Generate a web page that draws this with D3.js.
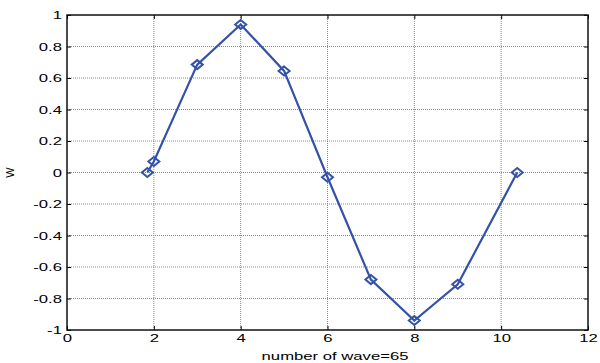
<!DOCTYPE html>
<html>
<head>
<meta charset="utf-8">
<script src="https://cdn.jsdelivr.net/npm/d3@7"></script>
<style>
  body { margin: 0; background: #fff; }
  text { font-family: "Liberation Sans", Arial, sans-serif; }
</style>
</head>
<body>
<svg id="chart" width="600" height="363"></svg>
<script>
// data
const waveX = [1.85, 2, 3, 4, 5, 6, 7, 8, 9, 10.37];
const waveW = [0, 0.07, 0.685, 0.94, 0.645, -0.03, -0.68, -0.94, -0.71, 0];
const xTicks = [0, 2, 4, 6, 8, 10, 12];
const yTicks = [-1, -0.8, -0.6, -0.4, -0.2, 0, 0.2, 0.4, 0.6, 0.8, 1];

const margin = {left: 67, top: 15, right: 12, bottom: 33};
const width = 600 - margin.left - margin.right;
const height = 363 - margin.top - margin.bottom;
const stretch = 1.45; // text in the picture is drawn wide

const svg = d3.select("#chart")
  .append("g")
  .attr("transform", "translate(" + margin.left + "," + margin.top + ")");

const x = d3.scaleLinear().domain([0, 12]).range([0, width]);
const y = d3.scaleLinear().domain([-1, 1]).range([height, 0]);

// grid
svg.append("g").selectAll("line")
  .data(xTicks.slice(1, -1))
  .enter().append("line")
  .attr("x1", d => x(d)).attr("x2", d => x(d))
  .attr("y1", 0).attr("y2", height)
  .attr("stroke", "#8a8a8a").attr("stroke-width", 1)
  .attr("stroke-dasharray", "1,1");

svg.append("g").selectAll("line")
  .data(yTicks.slice(1, -1))
  .enter().append("line")
  .attr("x1", 0).attr("x2", width)
  .attr("y1", d => y(d)).attr("y2", d => y(d))
  .attr("stroke", "#8a8a8a").attr("stroke-width", 1)
  .attr("stroke-dasharray", "1,1");

// axes, ticks pointing inward
const fmt = d => d3.format("")(+d.toFixed(1)).replace("−", "-");

svg.append("g")
  .attr("transform", "translate(0," + height + ")")
  .call(d3.axisBottom(x).tickValues(xTicks).tickSize(-4).tickPadding(4).tickFormat(fmt))
  .call(g => g.select(".domain").remove());

svg.append("g")
  .call(d3.axisLeft(y).tickValues(yTicks).tickSize(-4).tickPadding(3.5).tickFormat(fmt))
  .call(g => g.select(".domain").remove());

svg.append("g")
  .call(d3.axisTop(x).tickValues(xTicks).tickSize(-4).tickFormat(""))
  .call(g => g.select(".domain").remove());

svg.append("g")
  .attr("transform", "translate(" + width + ",0)")
  .call(d3.axisRight(y).tickValues(yTicks).tickSize(-4).tickFormat(""))
  .call(g => g.select(".domain").remove());

svg.selectAll(".tick text")
  .attr("font-size", 11.5)
  .attr("font-family", "Liberation Sans, Arial, sans-serif")
  .attr("fill", "#000")
  .attr("transform", "scale(" + stretch + ",1)");
svg.selectAll(".tick line").attr("stroke", "#000");

// box
svg.append("rect")
  .attr("x", 0).attr("y", 0)
  .attr("width", width).attr("height", height)
  .attr("fill", "none")
  .attr("stroke", "#111")
  .attr("stroke-width", 1.5);

// line
const pts = waveX.map((d, i) => [d, waveW[i]]);
svg.append("path")
  .datum(pts)
  .attr("fill", "none")
  .attr("stroke", "#3352a8")
  .attr("stroke-width", 2.2)
  .attr("d", d3.line().x(d => x(d[0])).y(d => y(d[1])));

// diamond markers
svg.append("g").selectAll("path")
  .data(pts)
  .enter().append("path")
  .attr("transform", d => "translate(" + x(d[0]) + "," + y(d[1]) + ")")
  .attr("d", "M0,-4.5L5.5,0L0,4.5L-5.5,0Z")
  .attr("fill", "none")
  .attr("stroke", "#3352a8")
  .attr("stroke-width", 2);

// labels
svg.append("text")
  .attr("transform", "translate(" + (335 - margin.left) + "," + (height + 30) + ") scale(" + stretch + ",1)")
  .attr("text-anchor", "middle")
  .attr("font-size", 11.5)
  .text("number of wave=65");

svg.append("text")
  .attr("transform", "translate(" + (14 - margin.left) + "," + (height / 2) + ") rotate(-90)")
  .attr("text-anchor", "middle")
  .attr("font-size", 11)
  .text("W");
</script>
</body>
</html>
